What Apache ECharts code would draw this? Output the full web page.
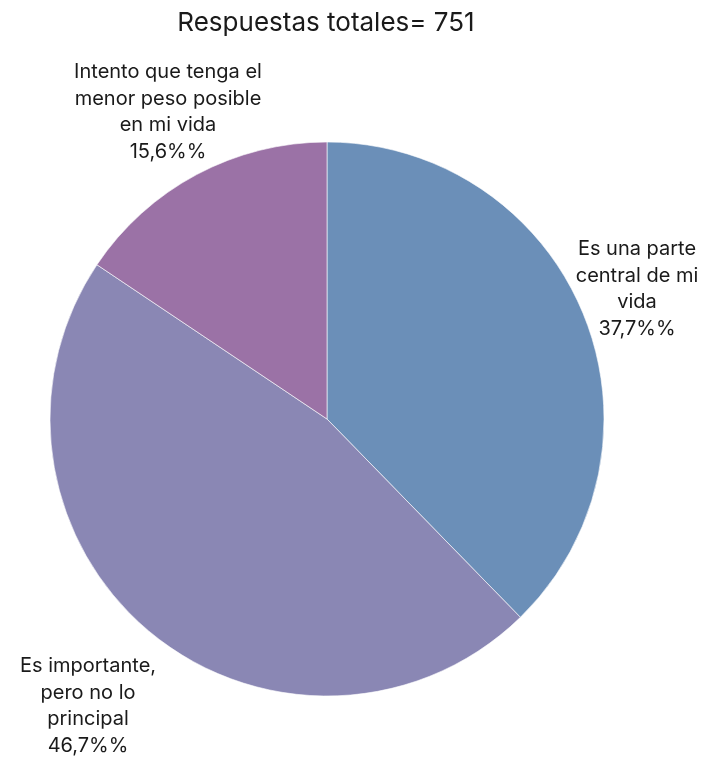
<!DOCTYPE html>
<html><head><meta charset="utf-8">
<script src="https://cdn.jsdelivr.net/npm/echarts@6/dist/echarts.min.js"></script>
<style>html,body{margin:0;padding:0;background:#fff}#c{width:720px;height:760px}</style>
</head><body><div id="c"></div>
<script>
const categories = ["Es una parte\ncentral de mi\nvida", "Es importante,\npero no lo\nprincipal", "Intento que tenga el\nmenor peso posible\nen mi vida"];
const values = [37.7, 46.7, 15.6];
const valueLabels = ["37,7%%", "46,7%%", "15,6%%"];
const colors = ["#6b8fb8", "#8a87b4", "#9b72a6"];
const titleText = "Respuestas totales= 751";

const labelPos = [[637, 289], [88, 706], [168, 112]];
const chart = echarts.init(document.getElementById('c'), null, {renderer: 'canvas'});
chart.setOption({
  animation: false,
  title: {text: titleText, left: 321, top: 5, textAlign: 'center',
    textStyle: {fontFamily: 'Inter', fontWeight: 'normal', fontSize: 26, color: '#1a1a1a'}},
  series: [{
    type: 'pie', center: [327, 419], radius: 277, startAngle: 90, clockwise: true,
    data: categories.map((n, i) => ({name: n, value: values[i], itemStyle: {color: colors[i]}})),
    itemStyle: {borderColor: '#ffffff', borderWidth: 0.6},
    label: {show: true, position: 'outside', fontFamily: 'Inter', fontSize: 20, color: '#1a1a1a',
      lineHeight: 26.5, align: 'center', overflow: 'none', width: 400,
      formatter: p => p.name + '\n' + valueLabels[p.dataIndex]},
    labelLine: {show: false},
    labelLayout: p => ({x: labelPos[p.dataIndex][0], y: labelPos[p.dataIndex][1], align: 'center', verticalAlign: 'middle'}),
    emphasis: {disabled: true}
  }]
});
</script></body></html>
